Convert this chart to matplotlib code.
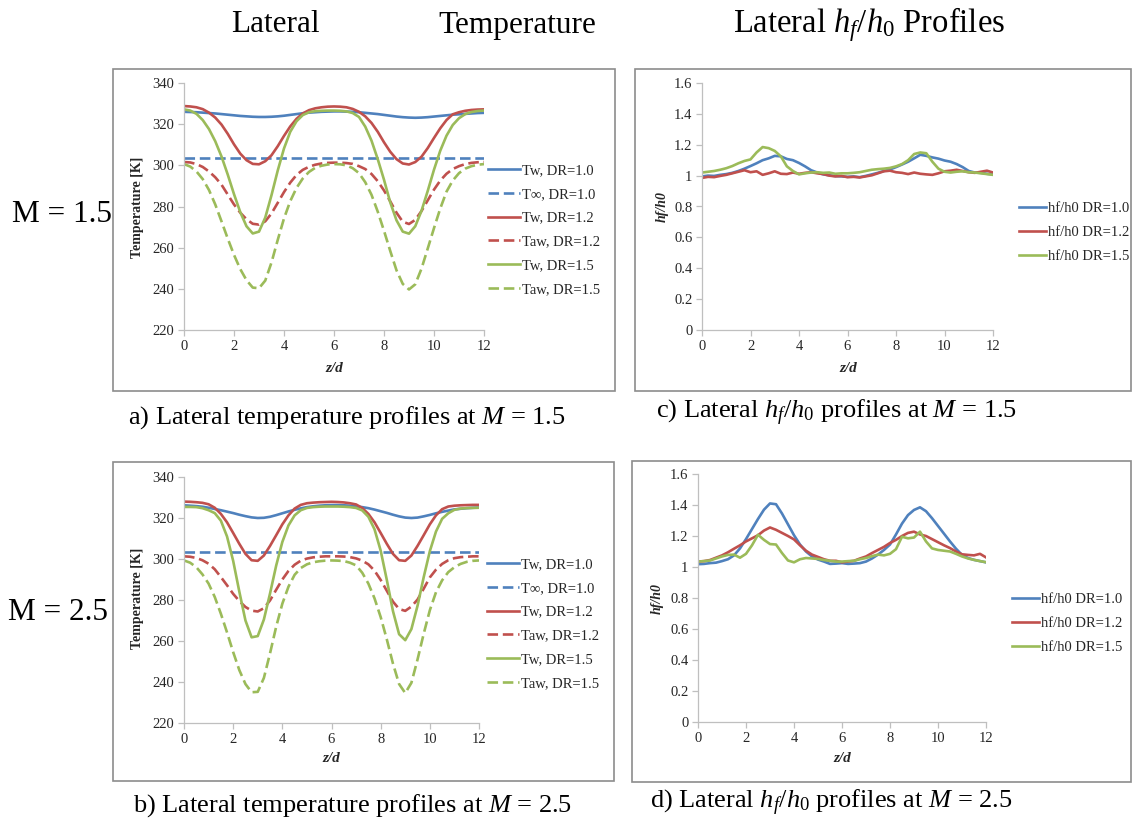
import numpy as np
import matplotlib
matplotlib.use("Agg")
import matplotlib.pyplot as plt
from matplotlib.patches import Rectangle
from matplotlib.ticker import FuncFormatter, MultipleLocator

plt.rcParams["font.family"] = ["Liberation Serif", "DejaVu Serif"]
plt.rcParams["mathtext.fontset"] = "custom"
plt.rcParams["mathtext.rm"] = "Liberation Serif"
plt.rcParams["mathtext.it"] = "Liberation Serif:italic"
plt.rcParams["mathtext.bf"] = "Liberation Serif:bold"

# ---------------- data ----------------
# lateral measurement positions (z/d), every quarter diameter
z = np.arange(0, 12.01, 0.25)

# M = 1.5 temperatures [K]
tw10_m15 = [326.0, 325.9, 325.8, 325.6, 325.4, 325.2, 324.9, 324.6, 324.3, 324.0, 323.8, 323.6,
            323.5, 323.5, 323.6, 323.8, 324.1, 324.5, 324.9, 325.3, 325.6, 325.8, 326.0, 326.1,
            326.2, 326.2, 326.1, 326.0, 325.8, 325.5, 325.2, 324.9, 324.5, 324.1, 323.7, 323.4,
            323.2, 323.1, 323.2, 323.4, 323.7, 324.0, 324.3, 324.6, 324.8, 325.0, 325.2, 325.4,
            325.5]
tinf10_m15 = 303.6
tw12_m15 = [328.8, 328.6, 328.2, 327.3, 325.6, 323.2, 319.8, 315.3, 310.2, 305.7, 302.5, 300.7,
            300.5, 302.0, 304.9, 309.3, 314.3, 318.9, 322.6, 325.2, 326.8, 327.7, 328.2, 328.5,
            328.6, 328.5, 328.2, 327.4, 326.0, 323.8, 320.6, 316.3, 311.2, 306.6, 303.0, 300.9,
            300.4, 301.6, 304.2, 308.4, 313.3, 318.0, 322.0, 324.8, 325.8, 326.5, 326.9, 327.1,
            327.2]
taw12_m15 = [301.6, 301.4, 300.6, 299.2, 297.0, 294.2, 290.6, 285.8, 281.0, 277.0, 273.8, 271.6,
             271.2, 272.8, 276.6, 281.8, 287.0, 291.6, 295.3, 297.8, 299.3, 300.3, 300.9, 301.2,
             301.3, 301.3, 301.1, 300.7, 299.6, 298.2, 295.8, 292.3, 287.8, 282.5, 277.0, 272.6,
             271.5, 273.5, 277.8, 283.0, 288.2, 292.6, 295.9, 298.2, 299.6, 300.6, 301.2, 301.5,
             301.6]
tw15_m15 = [327.2, 326.6, 325.0, 322.0, 317.6, 311.7, 304.3, 295.5, 286.0, 277.3, 270.4, 266.9,
            267.8, 274.6, 285.5, 297.5, 308.2, 316.3, 321.4, 324.4, 325.8, 326.3, 326.5, 326.6,
            326.6, 326.5, 326.2, 325.4, 323.5, 318.8, 312.0, 303.0, 293.0, 282.0, 273.3, 267.8,
            266.8, 270.4, 277.9, 287.6, 297.9, 307.1, 314.4, 319.6, 322.9, 324.9, 325.9, 326.4,
            326.6]
taw15_m15 = [300.6, 299.4, 297.0, 293.3, 288.0, 281.0, 272.8, 264.4, 256.5, 249.6, 244.2, 240.6,
             240.3, 244.0, 252.8, 263.8, 274.2, 282.6, 289.0, 293.6, 296.8, 298.8, 299.8, 300.4,
             300.6, 300.5, 300.0, 298.6, 296.2, 291.8, 285.7, 277.5, 268.2, 258.4, 249.0, 242.4,
             239.7, 242.2, 249.8, 259.6, 269.5, 279.0, 287.2, 292.6, 296.2, 298.4, 299.6, 300.3,
             300.6]

# M = 2.5 temperatures [K]
tw10_m25 = [326.2, 326.0, 325.8, 325.5, 325.0, 324.4, 323.8, 323.1, 322.4, 321.6, 320.9, 320.3,
            320.0, 320.1, 320.6, 321.4, 322.3, 323.2, 324.0, 324.7, 325.3, 325.7, 326.0, 326.2,
            326.3, 326.3, 326.2, 326.0, 325.7, 325.3, 324.8, 324.1, 323.3, 322.5, 321.6, 320.8,
            320.2, 320.0, 320.2, 320.8, 321.5, 322.3, 323.0, 323.6, 324.2, 324.5, 324.8, 325.0,
            325.1]
tinf10_m25 = 303.6
tw12_m25 = [328.0, 327.9, 327.7, 327.4, 326.7, 325.0, 322.0, 317.9, 312.7, 307.4, 302.5, 299.4,
            299.1, 301.7, 306.4, 311.6, 316.9, 321.3, 324.6, 326.4, 327.2, 327.5, 327.7, 327.8,
            327.9, 327.8, 327.6, 327.2, 326.6, 324.9, 322.0, 317.9, 312.7, 307.4, 302.5, 299.4,
            299.1, 301.7, 306.4, 311.6, 316.9, 321.3, 324.3, 325.6, 326.0, 326.2, 326.3, 326.4,
            326.4]
taw12_m25 = [301.3, 301.1, 300.5, 299.4, 297.7, 295.0, 291.2, 287.2, 283.0, 279.5, 276.6, 274.8,
             274.4, 276.0, 279.8, 285.0, 290.0, 294.2, 297.2, 299.2, 300.2, 300.8, 301.1, 301.3,
             301.3, 301.3, 301.2, 300.9, 300.3, 299.2, 297.4, 294.3, 289.8, 284.5, 279.2, 275.6,
             274.7, 276.8, 280.2, 285.5, 291.0, 294.8, 297.6, 299.4, 300.4, 300.9, 301.1, 301.3,
             301.3]
tw15_m25 = [325.4, 325.4, 325.3, 324.8, 323.8, 322.4, 318.7, 311.0, 299.1, 284.1, 270.0, 261.8,
            262.4, 270.5, 283.2, 296.8, 308.3, 316.4, 321.3, 323.8, 324.9, 325.3, 325.5, 325.6,
            325.6, 325.6, 325.5, 325.3, 324.9, 323.7, 320.6, 314.5, 304.1, 289.8, 274.6, 263.3,
            260.4, 265.8, 277.2, 291.1, 303.8, 313.4, 319.6, 322.3, 324.0, 324.6, 324.8, 324.9,
            325.0]
taw15_m25 = [299.3, 298.2, 296.0, 292.5, 288.0, 281.5, 273.3, 264.2, 254.6, 245.8, 239.0, 235.0,
             235.2, 242.0, 254.0, 267.0, 278.2, 286.5, 292.3, 295.6, 297.4, 298.4, 298.9, 299.2,
             299.3, 299.2, 299.0, 298.2, 296.9, 293.3, 288.0, 280.8, 271.7, 260.8, 249.0, 239.0,
             234.6, 239.6, 251.0, 263.5, 275.0, 283.8, 289.6, 293.6, 296.0, 297.6, 298.6, 299.1,
             299.3]

# M = 1.5 hf/h0
hf10_m15 = [0.995, 1.000, 0.998, 1.005, 1.010, 1.018, 1.030, 1.045, 1.062, 1.080, 1.100,
            1.112, 1.128, 1.125, 1.108, 1.100, 1.082, 1.060, 1.035, 1.020, 1.008, 1.002,
            0.997, 0.995, 0.992, 0.995, 0.990, 0.998, 1.008, 1.018, 1.030, 1.040, 1.055,
            1.072, 1.090, 1.112, 1.135, 1.128, 1.118, 1.110, 1.098, 1.090, 1.075, 1.055,
            1.030, 1.020, 1.018, 1.012, 1.008]
hf12_m15 = [0.985, 0.992, 0.990, 0.998, 1.005, 1.015, 1.025, 1.035, 1.022, 1.028, 1.005,
            1.015, 1.028, 1.012, 1.010, 1.020, 1.012, 1.018, 1.022, 1.015, 1.010, 1.000,
            0.995, 0.998, 0.990, 0.992, 0.988, 0.995, 1.002, 1.015, 1.028, 1.032, 1.022,
            1.018, 1.010, 1.020, 1.012, 1.008, 1.005, 1.015, 1.028, 1.032, 1.038, 1.030,
            1.022, 1.018, 1.025, 1.032, 1.020]
hf15_m15 = [1.020, 1.025, 1.030, 1.038, 1.048, 1.062, 1.080, 1.095, 1.105, 1.150, 1.185,
            1.178, 1.160, 1.125, 1.060, 1.030, 1.008, 1.015, 1.020, 1.022, 1.018, 1.020,
            1.012, 1.015, 1.015, 1.018, 1.022, 1.030, 1.038, 1.042, 1.045, 1.050, 1.060,
            1.075, 1.100, 1.140, 1.150, 1.145, 1.090, 1.045, 1.025, 1.020, 1.025, 1.028,
            1.022, 1.020, 1.015, 1.010, 1.005]

# M = 2.5 hf/h0
hf10_m25 = [1.018, 1.020, 1.025, 1.028, 1.038, 1.050, 1.075, 1.120, 1.180, 1.245, 1.310,
            1.370, 1.410, 1.405, 1.345, 1.275, 1.205, 1.145, 1.100, 1.068, 1.048, 1.035,
            1.020, 1.022, 1.025, 1.020, 1.022, 1.025, 1.035, 1.055, 1.080, 1.110, 1.145,
            1.210, 1.280, 1.335, 1.368, 1.385, 1.360, 1.315, 1.265, 1.215, 1.165, 1.118,
            1.078, 1.058, 1.046, 1.038, 1.030]
hf12_m25 = [1.035, 1.038, 1.045, 1.060, 1.075, 1.095, 1.118, 1.140, 1.165, 1.185, 1.205,
            1.235, 1.255, 1.240, 1.220, 1.200, 1.178, 1.140, 1.105, 1.080, 1.065, 1.050,
            1.040, 1.040, 1.030, 1.035, 1.040, 1.055, 1.068, 1.090, 1.110, 1.130, 1.155,
            1.175, 1.200, 1.220, 1.228, 1.210, 1.200, 1.180, 1.160, 1.140, 1.122, 1.100,
            1.082, 1.078, 1.075, 1.085, 1.062]
hf15_m25 = [1.035, 1.038, 1.042, 1.055, 1.068, 1.078, 1.080, 1.060, 1.085, 1.140, 1.208,
            1.175, 1.148, 1.145, 1.090, 1.042, 1.030, 1.050, 1.058, 1.055, 1.052, 1.045,
            1.040, 1.035, 1.035, 1.038, 1.040, 1.050, 1.058, 1.070, 1.080, 1.075, 1.085,
            1.115, 1.195, 1.185, 1.190, 1.228, 1.165, 1.120, 1.110, 1.105, 1.100, 1.085,
            1.068, 1.055, 1.046, 1.038, 1.031]

temp_labels = ["Tw, DR=1.0", "T\u221e, DR=1.0", "Tw, DR=1.2",
               "Taw, DR=1.2", "Tw, DR=1.5", "Taw, DR=1.5"]
hf_labels = ["hf/h0 DR=1.0", "hf/h0 DR=1.2", "hf/h0 DR=1.5"]

# ---------------- figure ----------------
W, H = 1133, 824
fig = plt.figure(figsize=(W / 100, H / 100), dpi=100)

BLUE, RED, GREEN = "#4F81BD", "#C0504D", "#9BBB59"
AXC = "#bfbfbf"
TXT = "#262626"
LW = 1.9
DASH = (0, (4.0, 1.8))


def fx(px):
    return px / W


def fy(py):
    return 1 - py / H


def box(x0, y0, x1, y1):
    fig.add_artist(Rectangle((fx(x0), fy(y1)), fx(x1) - fx(x0), fy(y0) - fy(y1),
                             transform=fig.transFigure, fill=False,
                             edgecolor="#8c8c8c", linewidth=1.2))


def make_axes(x0, y0, x1, y1):
    ax = fig.add_axes([fx(x0), fy(y1), fx(x1) - fx(x0), fy(y0) - fy(y1)])
    for s in ("top", "right"):
        ax.spines[s].set_visible(False)
    for s in ("left", "bottom"):
        ax.spines[s].set_color(AXC)
        ax.spines[s].set_linewidth(0.9)
    ax.tick_params(direction="out", length=4, width=0.9, color=AXC,
                   labelsize=10.5, labelcolor=TXT, pad=3)
    ax.set_xlim(0, 12)
    ax.xaxis.set_major_locator(MultipleLocator(2))
    ax.patch.set_alpha(0)
    return ax


def temp_panel(x0, y0, x1, y1, series, tinf, leg_xy):
    ax = make_axes(x0, y0, x1, y1)
    ax.set_ylim(220, 340)
    ax.yaxis.set_major_locator(MultipleLocator(20))
    tw10, tw12, taw12, tw15, taw15 = series
    h = []
    h += ax.plot(z, tw10, color=BLUE, lw=LW)
    h += ax.plot(z, np.full(len(z), tinf), color=BLUE, lw=LW, ls=DASH)
    h += ax.plot(z, tw12, color=RED, lw=LW)
    h += ax.plot(z, taw12, color=RED, lw=LW, ls=DASH)
    h += ax.plot(z, tw15, color=GREEN, lw=LW)
    h += ax.plot(z, taw15, color=GREEN, lw=LW, ls=DASH)
    fig.legend(h, temp_labels, loc="upper left",
               bbox_to_anchor=(fx(leg_xy[0]), fy(leg_xy[1])),
               frameon=False, fontsize=10.5, handlelength=2.2, handletextpad=0.15,
               labelspacing=0.72, borderpad=0, borderaxespad=0, labelcolor=TXT)
    return ax


def hf_panel(x0, y0, x1, y1, series, leg_xy):
    ax = make_axes(x0, y0, x1, y1)
    ax.set_ylim(0, 1.6)
    ax.yaxis.set_major_locator(MultipleLocator(0.2))
    ax.yaxis.set_major_formatter(FuncFormatter(lambda v, p: f"{v:g}"))
    h = []
    for vals, c in zip(series, (BLUE, RED, GREEN)):
        h += ax.plot(z, vals, color=c, lw=LW)
    fig.legend(h, hf_labels, loc="upper left",
               bbox_to_anchor=(fx(leg_xy[0]), fy(leg_xy[1])),
               frameon=False, fontsize=10.5, handlelength=1.85, handletextpad=0.15,
               labelspacing=0.72, borderpad=0, borderaxespad=0, labelcolor=TXT)
    return ax


# frames around each chart
box(113, 69, 615, 391)
box(635, 69, 1131, 391)
box(113, 462, 614, 781)
box(632, 461, 1131, 782)

temp_panel(184, 83, 484, 330,
           (tw10_m15, tw12_m15, taw12_m15, tw15_m15, taw15_m15), tinf10_m15, (488, 164))
temp_panel(184, 477, 479, 723,
           (tw10_m25, tw12_m25, taw12_m25, tw15_m25, taw15_m25), tinf10_m25, (487, 558))
hf_panel(702, 83, 993, 330, (hf10_m15, hf12_m15, hf15_m15), (1019, 202))
hf_panel(698, 474, 986, 722, (hf10_m25, hf12_m25, hf15_m25), (1012, 593))

# axis titles
lab = dict(fontsize=10, fontweight="bold", color=TXT, ha="center", va="center")
fig.text(fx(138), fy(207), "Temperature [K]", rotation=90, **lab)
fig.text(fx(138), fy(598), "Temperature [K]", rotation=90, **lab)
fig.text(fx(662), fy(207), "hf/h0", rotation=90, fontstyle="italic", **lab)
fig.text(fx(657), fy(598), "hf/h0", rotation=90, fontstyle="italic", **lab)
labx = dict(fontsize=11, fontweight="bold", fontstyle="italic", color=TXT,
            ha="center", va="center")
fig.text(fx(334), fy(368), "z/d", **labx)
fig.text(fx(848), fy(368), "z/d", **labx)
fig.text(fx(331), fy(758), "z/d", **labx)
fig.text(fx(842), fy(758), "z/d", **labx)

# column headings
head = dict(fontsize=22.5, color="black", va="center")
fig.text(fx(231), fy(25), "Lateral", ha="left", **head)
fig.text(fx(596), fy(25), "Temperature", ha="right", **head)
fig.text(fx(733), fy(25), r"Lateral $h_f/h_0$ Profiles", ha="left",
         fontsize=23.5, color="black", va="center")

# row headings
fig.text(fx(12), fy(215), "M = 1.5", ha="left", **head)
fig.text(fx(8), fy(613), "M = 2.5", ha="left", **head)

# captions
cap = dict(fontsize=19, color="black", va="center", ha="left")
fig.text(fx(128), fy(418), r"a) Lateral temperature profiles at $M$ = 1.5", **cap)
fig.text(fx(656), fy(413), r"c) Lateral $h_f/h_0$ profiles at $M$ = 1.5", **cap)
fig.text(fx(133), fy(806), r"b) Lateral temperature profiles at $M$ = 2.5", **cap)
fig.text(fx(650), fy(803), r"d) Lateral $h_f/h_0$ profiles at $M$ = 2.5", **cap)

fig.savefig("out.png", dpi=100)
